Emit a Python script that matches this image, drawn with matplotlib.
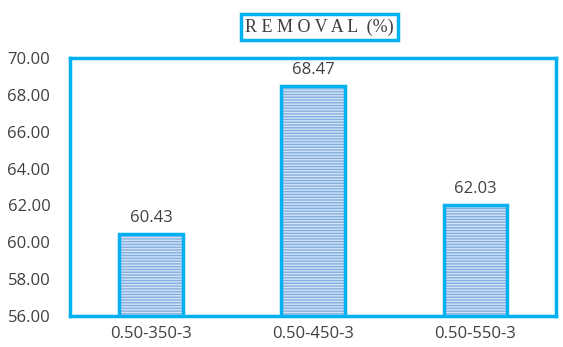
import matplotlib.pyplot as plt
import numpy as np

# Data
labels = ["0.50-350-3", "0.50-450-3", "0.50-550-3"]
removal = [60.43, 68.47, 62.03]
yticks = [56, 58, 60, 62, 64, 66, 68, 70]

blue = "#00b0f0"
grey = "#404040"
plt.rcParams["hatch.linewidth"] = 1.0

fig = plt.figure(figsize=(5.63, 3.47), dpi=100)
ax = fig.add_axes([0.124, 0.089, 0.864, 0.744])

x = np.arange(len(labels))
# hatched fill first, then the thick blue outline on top
ax.bar(x, removal, width=0.39, color="#84aee0", edgecolor="#d3e3f6",
       hatch="------", linewidth=0, zorder=2)
ax.bar(x, removal, width=0.39, fill=False, edgecolor=blue,
       linewidth=2.5, zorder=3)

for xi, v in zip(x, removal):
    ax.text(xi, v + 0.45, f"{v:.2f}", ha="center", va="bottom",
            fontsize=12, family="Open Sans", color=grey)

ax.set_xlim(-0.5, 2.5)
ax.set_ylim(56, 70)
ax.set_yticks(yticks)
ax.set_yticklabels([f"{t:.2f}" for t in yticks], family="Open Sans",
                   fontsize=12, color=grey)
ax.set_xticks(x)
ax.set_xticklabels(labels, family="Open Sans", fontsize=12, color=grey)
ax.tick_params(length=0)
ax.tick_params(axis="y", pad=14)
ax.tick_params(axis="x", pad=7)

for s in ax.spines.values():
    s.set_color(blue)
    s.set_linewidth(2.5)

fig.text(0.5675, 0.922, "R E M O V A L  (%)", ha="center", va="center",
         fontsize=13, family="Liberation Serif", color=grey,
         bbox=dict(boxstyle="square,pad=0.25", fc="white", ec=blue, lw=2.5))

fig.savefig("out.png", dpi=100)
